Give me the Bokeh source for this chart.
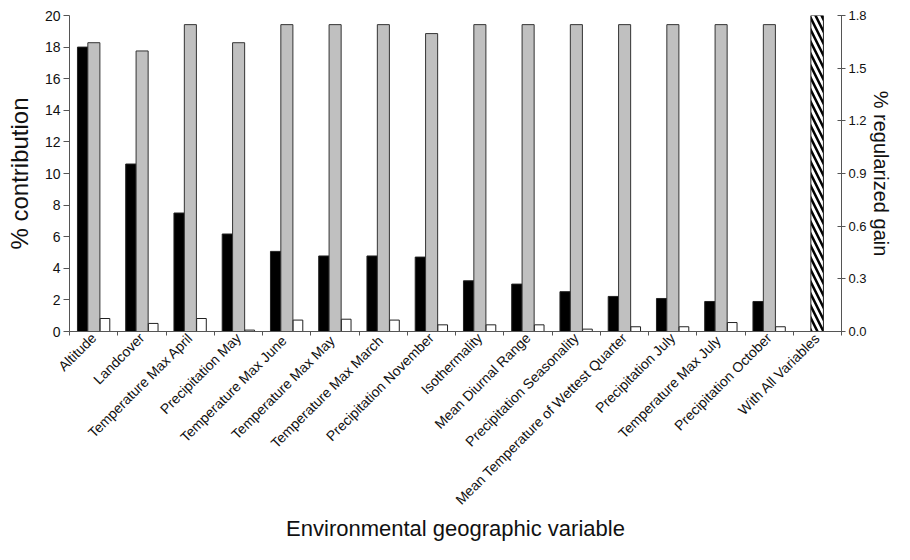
from bokeh.plotting import figure
from bokeh.models import (Range1d, LinearAxis, FixedTicker, ColumnDataSource)
from bokeh.embed import file_html
from bokeh.resources import INLINE
import math

categories = ["Altitude", "Landcover", "Temperature Max April", "Precipitation May",
              "Temperature  Max June", "Temperature  Max May", "Temperature  Max March",
              "Precipitation November", "Isothermality", "Mean Diurnal Range",
              "Precipitation Seasonality", "Mean Temperature of Wettest Quarter",
              "Precipitation July", "Temperature  Max July", "Precipitation October",
              "With All Variables"]
# % contribution (left axis)
contribution = [18.0, 10.6, 7.5, 6.17, 5.07, 4.78, 4.78, 4.71, 3.21, 3.0, 2.52, 2.22,
                2.09, 1.9, 1.9, 0.0]
# regularized gain without variable (right axis)
gain_without = [1.645, 1.598, 1.748, 1.645, 1.748, 1.748, 1.748, 1.697, 1.748, 1.748,
                1.748, 1.748, 1.748, 1.748, 1.748, 0.0]
# regularized gain with only variable (right axis)
gain_only = [0.074, 0.046, 0.074, 0.008, 0.065, 0.07, 0.065, 0.038, 0.038, 0.038,
             0.0135, 0.027, 0.027, 0.051, 0.027, 0.0]
# regularized gain with all variables (right axis)
gain_all = [0, 0, 0, 0, 0, 0, 0, 0, 0, 0, 0, 0, 0, 0, 0, 1.8]

n = len(categories)
centers = [i + 0.5 for i in range(n)]
bounds = list(range(n + 1))

FONT = "Liberation Sans"
AX = "#555555"

p = figure(width=894, height=544, output_backend="svg", toolbar_location=None,
           x_range=Range1d(0, n), y_range=Range1d(0, 20),
           min_border_left=69, min_border_right=51, min_border_top=15,
           min_border_bottom=213, x_axis_location=None, y_axis_location=None)
p.extra_y_ranges = {"gain": Range1d(0, 1.8)}
p.grid.visible = False
p.outline_line_color = None
p.background_fill_color = "white"

src_main = ColumnDataSource(dict(
    xb=[c - 0.225 for c in centers], xg=[c + 0.005 for c in centers],
    xw=[c + 0.235 for c in centers], xh=[c - 0.005 for c in centers],
    contribution=contribution, gain_without=gain_without,
    gain_only=gain_only, gain_all=gain_all))

p.vbar(x="xb", top="contribution", width=0.22, source=src_main,
       fill_color="black", line_color="#222222", line_width=1)
p.vbar(x="xg", top="gain_without", width=0.25, source=src_main, y_range_name="gain",
       fill_color="#c0c0c0", line_color="#333333", line_width=1)
p.vbar(x="xw", top="gain_only", width=0.2, source=src_main, y_range_name="gain",
       fill_color="white", line_color="#222222", line_width=1)
p.vbar(x="xh", top="gain_all", width=0.26, source=src_main, y_range_name="gain",
       fill_color="white", line_color="#222222", line_width=1,
       hatch_pattern="\\", hatch_color="black", hatch_weight=2.5, hatch_scale=12)

def style(ax):
    ax.axis_line_color = AX
    ax.major_tick_line_color = AX
    ax.minor_tick_line_color = AX
    ax.major_label_text_font = FONT
    ax.major_label_text_color = "#111111"
    ax.axis_label_text_font = FONT
    ax.axis_label_text_font_style = "normal"
    ax.axis_label_text_color = "#111111"

left = LinearAxis(ticker=FixedTicker(ticks=list(range(0, 21, 2))))
style(left)
left.axis_label = "% contribution"
left.axis_label_text_font_size = "24px"
left.major_label_text_font_size = "14px"
left.major_tick_in = 0
left.major_tick_out = 6
left.major_label_standoff = 3
left.axis_label_standoff = 9
p.add_layout(left, "left")

right = LinearAxis(y_range_name="gain",
                   ticker=FixedTicker(ticks=[0.0, 0.3, 0.6, 0.9, 1.2, 1.5, 1.8]))
style(right)
right.axis_label = "% regularized gain"
right.axis_label_text_font_size = "20px"
right.major_label_text_font_size = "13px"
right.major_tick_in = 4
right.major_tick_out = 4
right.major_label_standoff = 3
right.axis_label_standoff = 0
right.major_label_overrides = {0: "0.0"}
p.add_layout(right, "right")

bottom = LinearAxis(ticker=FixedTicker(ticks=centers, minor_ticks=bounds))
style(bottom)
bottom.major_tick_in = 0
bottom.major_tick_out = 0
bottom.minor_tick_in = 0
bottom.minor_tick_out = 4
bottom.major_label_overrides = {c: lab for c, lab in zip(centers, categories)}
bottom.major_label_orientation = math.pi / 4
bottom.major_label_text_font_size = "14px"
bottom.major_label_standoff = 0
bottom.axis_label = "Environmental geographic variable"
bottom.axis_label_text_font_size = "22px"
bottom.axis_label_standoff = 0
p.add_layout(bottom, "below")

open("out.html", "w").write(file_html(p, INLINE))
